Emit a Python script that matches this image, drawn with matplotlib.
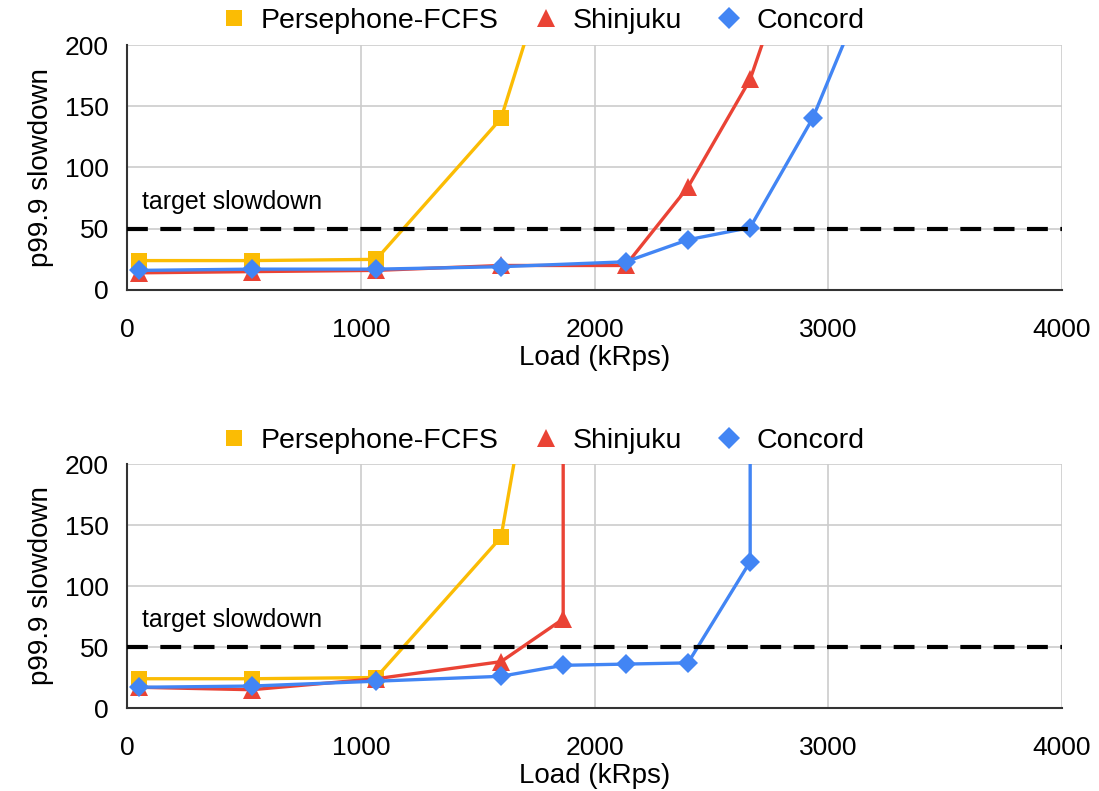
import matplotlib
matplotlib.use("Agg")
import matplotlib.pyplot as plt
from matplotlib.lines import Line2D

plt.rcParams["font.family"] = ["Liberation Sans", "DejaVu Sans"]

# colours
YELLOW = "#FBBC04"
RED = "#EA4335"
BLUE = "#4285F4"

# top panel
top_pers_x = [53, 533, 1066, 1600, 2133]
top_pers_y = [24, 24, 25, 140, 466]
top_shin_x = [53, 533, 1066, 1600, 2133, 2400, 2666, 2933]
top_shin_y = [14, 15, 16, 20, 20, 84, 172, 321]
top_conc_x = [53, 533, 1066, 1600, 2133, 2400, 2666, 2933, 3200]
top_conc_y = [16, 17, 17, 19, 23, 41, 51, 140, 263]

# bottom panel
bot_pers_x = [53, 533, 1066, 1600, 1866]
bot_pers_y = [24, 24, 25, 140, 430]
bot_shin_x = [53, 533, 1066, 1600, 1866, 1866]
bot_shin_y = [17, 15, 24, 38, 73, 1000]
bot_conc_x = [53, 533, 1066, 1600, 1866, 2133, 2400, 2666, 2666]
bot_conc_y = [17, 18, 22, 26, 35, 36, 37, 120, 1000]

target = 50
x_ticks = [0, 1000, 2000, 3000, 4000]
y_ticks = [0, 50, 100, 150, 200]
names = ["Persephone-FCFS", "Shinjuku", "Concord"]

fig = plt.figure(figsize=(10.99, 7.91), dpi=100)
ax1 = fig.add_axes([0.1156, 0.6334, 0.8507, 0.3097])
ax2 = fig.add_axes([0.1156, 0.1049, 0.8507, 0.3085])

panels = [
    (ax1, [(top_pers_x, top_pers_y), (top_shin_x, top_shin_y), (top_conc_x, top_conc_y)], 0.973),
    (ax2, [(bot_pers_x, bot_pers_y), (bot_shin_x, bot_shin_y), (bot_conc_x, bot_conc_y)], 0.443),
]
styles = [(YELLOW, "s", 11), (RED, "^", 12.5), (BLUE, "D", 10.5)]

for ax, series, leg_y in panels:
    for (xs, ys), (c, m, ms) in zip(series, styles):
        ax.plot(xs, ys, color=c, lw=2.4, marker=m, markersize=ms,
                markeredgewidth=0, clip_on=True, zorder=3)
    ax.axhline(target, color="black", lw=3, ls=(0, (5, 3)), zorder=4)
    ax.text(64, 72, "target slowdown", fontsize=18, va="center", ha="left")
    ax.set_xlim(0, 4000)
    ax.set_ylim(0, 200)
    ax.set_xticks(x_ticks)
    ax.set_yticks(y_ticks)
    ax.tick_params(axis="x", length=0, labelsize=19, pad=20)
    ax.tick_params(axis="y", length=0, labelsize=19, pad=13)
    ax.grid(True, color="#cccccc", lw=1.2, zorder=0)
    ax.set_axisbelow(True)
    for s in ["top", "right"]:
        ax.spines[s].set_visible(False)
    for s in ["left", "bottom"]:
        ax.spines[s].set_color("#333333")
        ax.spines[s].set_linewidth(1.5)
    ax.set_xlabel("Load (kRps)", fontsize=20, labelpad=2)
    ax.set_ylabel("p99.9 slowdown", fontsize=20, labelpad=8)

    handles = [Line2D([], [], color=c, marker=m, markersize=ms + 1, ls="none",
                      markeredgewidth=0) for c, m, ms in styles]
    fig.legend(handles, names, loc="center", bbox_to_anchor=(0.49, leg_y),
               ncol=3, frameon=False, fontsize=20.5, handletextpad=0.2,
               columnspacing=0.9, handlelength=1.5)

fig.savefig("out.png", dpi=100)
